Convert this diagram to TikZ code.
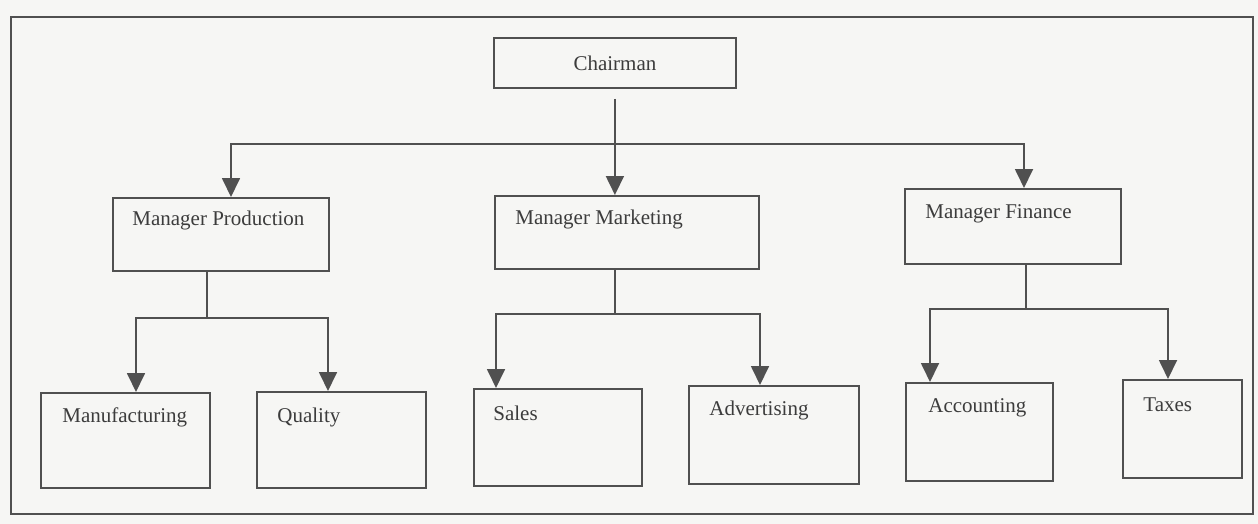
\documentclass[tikz,border=0pt]{standalone}
\usepackage{fontspec}
\setmainfont{Liberation Serif}
\usetikzlibrary{arrows.meta}
\definecolor{paper}{RGB}{246,246,244}
\definecolor{ink}{RGB}{80,80,80}
\definecolor{txt}{RGB}{60,60,60}
\begin{document}
\begin{tikzpicture}[x=0.5pt,y=-0.5pt,
  box/.style={draw=ink, line width=0.9pt, rectangle, inner sep=0pt, anchor=north west},
  lbl/.style={anchor=west, inner sep=0pt, text=txt, font=\fontsize{10.5}{12}\selectfont},
  conn/.style={draw=ink, line width=0.9pt},
  arrow/.style={conn, -{Triangle[width=9pt,length=9.5pt]}},
]
% paper and outer frame
\fill[paper] (0,0) rectangle (1258,524);
\useasboundingbox (0,0) rectangle (1258,524);
\draw[draw=ink, line width=0.9pt] (11,17) rectangle (1253,514);

% top level
\node[box, minimum width=121pt, minimum height=25pt] (chair) at (493,37) {};
\node[lbl, anchor=center] (chairt) at (chair.center) {Chairman};

% managers
\node[box, minimum width=108pt, minimum height=36.5pt] (prod) at (112,197) {};
\node[lbl] (prodt) at ([shift={(20,23)}]prod.north west) {Manager Production};
\node[box, minimum width=132pt, minimum height=36.5pt] (mkt) at (494,195) {};
\node[lbl] (mktt) at ([shift={(21,24)}]mkt.north west) {Manager Marketing};
\node[box, minimum width=108pt, minimum height=37.5pt] (fin) at (904,188) {};
\node[lbl] (fint) at ([shift={(21,26)}]fin.north west) {Manager Finance};

% departments
\node[box, minimum width=84.5pt, minimum height=47.5pt] (manu) at (40,392) {};
\node[lbl] (manut) at ([shift={(22,25)}]manu.north west) {Manufacturing};
\node[box, minimum width=84.5pt, minimum height=48pt] (qual) at (256,391) {};
\node[lbl] (qualt) at ([shift={(21,26)}]qual.north west) {Quality};
\node[box, minimum width=84pt, minimum height=48.5pt] (sales) at (473,388) {};
\node[lbl] (salest) at ([shift={(20,25)}]sales.north west) {Sales};
\node[box, minimum width=85pt, minimum height=49pt] (adv) at (688,385) {};
\node[lbl] (advt) at ([shift={(21,25)}]adv.north west) {Advertising};
\node[box, minimum width=73.5pt, minimum height=49pt] (acc) at (905,382) {};
\node[lbl] (acct) at ([shift={(23,26)}]acc.north west) {Accounting};
\node[box, minimum width=59.5pt, minimum height=49pt] (tax) at (1122,379) {};
\node[lbl] (taxt) at ([shift={(21,26)}]tax.north west) {Taxes};

% chairman to managers
\coordinate (busL) at (231,144);
\coordinate (busR) at (1024,144);
\draw[arrow] ([yshift=-5pt]chair.south) -- (chair.south |- mkt.north);
\draw[arrow] (busL -| chair.south) -- (busL) -- (busL |- prod.north);
\draw[arrow] (busL -| chair.south) -- (busR) -- (busR |- fin.north);

% production branch
\coordinate (pj) at (207,318);
\coordinate (pl) at (136,318);
\coordinate (pr) at (328,318);
\draw[conn] (pj |- prod.south) -- (pj);
\draw[arrow] (pj) -- (pl) -- (pl |- manu.north);
\draw[arrow] (pj) -- (pr) -- (pr |- qual.north);

% marketing branch
\coordinate (mj) at (615,314);
\coordinate (ml) at (496,314);
\coordinate (mr) at (760,314);
\draw[conn] (mj |- mkt.south) -- (mj);
\draw[arrow] (mj) -- (ml) -- (ml |- sales.north);
\draw[arrow] (mj) -- (mr) -- (mr |- adv.north);

% finance branch
\coordinate (fj) at (1026,309);
\coordinate (fl) at (930,309);
\coordinate (fr) at (1168,309);
\draw[conn] (fj |- fin.south) -- (fj);
\draw[arrow] (fj) -- (fl) -- (fl |- acc.north);
\draw[arrow] (fj) -- (fr) -- (fr |- tax.north);
\end{tikzpicture}
\end{document}
